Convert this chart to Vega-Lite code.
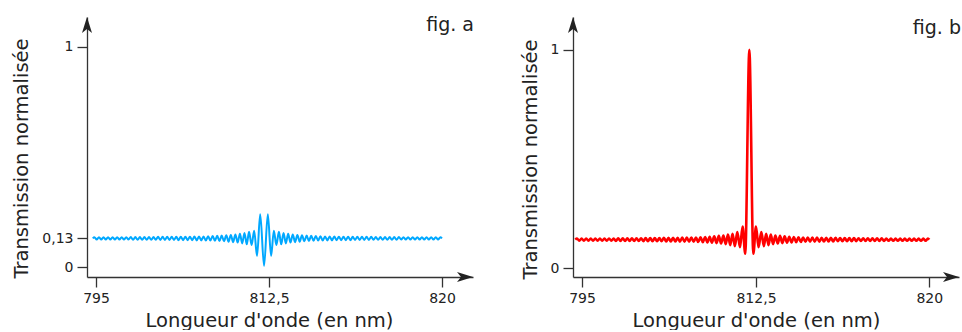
{
"$schema": "https://vega.github.io/schema/vega-lite/v6.json",
"padding": {"left": 11, "top": 15, "right": 0, "bottom": 0},
"background": "white",
"bounds": "flush",
"spacing": 100,
"config": {
  "view": {"stroke": null},
  "font": "DejaVu Sans",
  "axis": {"domainColor": "#333", "tickColor": "#333", "domainWidth": 1.3, "tickWidth": 1.3, "tickSize": 10, "labelFontSize": 14, "labelColor": "#222", "labelFont": "DejaVu Sans", "titleFont": "DejaVu Sans", "titleFontSize": 19.5, "titleFontWeight": "normal", "titleColor": "#222", "grid": false, "labelPadding": 4, "labelOverlap": false, "labelFlush": false, "labelExpr": "replace(format(datum.value, '~g'), '.', ',')"}
},
"datasets": {
"a": [
{"nm":794.67,"T":0.13},{"nm":794.84,"T":0.135},{"nm":795.07,"T":0.125},{"nm":795.30,"T":0.135},{"nm":795.53,"T":0.125},{"nm":795.76,"T":0.135},{"nm":795.99,"T":0.125},{"nm":796.22,"T":0.135},{"nm":796.45,"T":0.125},{"nm":796.68,"T":0.135},{"nm":796.91,"T":0.125},{"nm":797.14,"T":0.135},{"nm":797.37,"T":0.125},{"nm":797.60,"T":0.135},{"nm":797.83,"T":0.125},{"nm":798.06,"T":0.135},{"nm":798.29,"T":0.125},{"nm":798.52,"T":0.136},{"nm":798.75,"T":0.124},{"nm":798.98,"T":0.136},{"nm":799.21,"T":0.124},{"nm":799.44,"T":0.136},{"nm":799.67,"T":0.124},{"nm":799.90,"T":0.136},{"nm":800.13,"T":0.124},{"nm":800.36,"T":0.136},{"nm":800.59,"T":0.124},{"nm":800.82,"T":0.136},{"nm":801.05,"T":0.124},{"nm":801.28,"T":0.137},{"nm":801.51,"T":0.123},{"nm":801.74,"T":0.137},{"nm":801.97,"T":0.123},{"nm":802.20,"T":0.137},{"nm":802.43,"T":0.123},{"nm":802.66,"T":0.137},{"nm":802.89,"T":0.123},{"nm":803.12,"T":0.137},{"nm":803.35,"T":0.122},{"nm":803.58,"T":0.138},{"nm":803.81,"T":0.122},{"nm":804.04,"T":0.138},{"nm":804.27,"T":0.122},{"nm":804.50,"T":0.138},{"nm":804.73,"T":0.122},{"nm":804.96,"T":0.139},{"nm":805.19,"T":0.121},{"nm":805.42,"T":0.139},{"nm":805.65,"T":0.121},{"nm":805.88,"T":0.139},{"nm":806.11,"T":0.120},{"nm":806.34,"T":0.140},{"nm":806.57,"T":0.120},{"nm":806.80,"T":0.141},{"nm":807.03,"T":0.119},{"nm":807.26,"T":0.142},{"nm":807.49,"T":0.118},{"nm":807.72,"T":0.143},{"nm":807.95,"T":0.117},{"nm":808.18,"T":0.144},{"nm":808.41,"T":0.115},{"nm":808.64,"T":0.146},{"nm":808.87,"T":0.113},{"nm":809.10,"T":0.148},{"nm":809.33,"T":0.111},{"nm":809.56,"T":0.151},{"nm":809.79,"T":0.107},{"nm":810.02,"T":0.155},{"nm":810.25,"T":0.103},{"nm":810.48,"T":0.160},{"nm":810.74,"T":0.100},{"nm":811.00,"T":0.165},{"nm":811.29,"T":0.050},{"nm":811.61,"T":0.240},{"nm":812.00,"T":0.005},{"nm":812.38,"T":0.240},{"nm":812.59,"T":0.050},{"nm":812.71,"T":0.165},{"nm":812.82,"T":0.100},{"nm":812.93,"T":0.160},{"nm":813.03,"T":0.103},{"nm":813.13,"T":0.155},{"nm":813.23,"T":0.107},{"nm":813.33,"T":0.151},{"nm":813.43,"T":0.111},{"nm":813.53,"T":0.148},{"nm":813.63,"T":0.113},{"nm":813.73,"T":0.146},{"nm":813.83,"T":0.115},{"nm":813.93,"T":0.144},{"nm":814.03,"T":0.117},{"nm":814.13,"T":0.143},{"nm":814.23,"T":0.118},{"nm":814.33,"T":0.142},{"nm":814.43,"T":0.119},{"nm":814.53,"T":0.141},{"nm":814.63,"T":0.120},{"nm":814.73,"T":0.140},{"nm":814.83,"T":0.120},{"nm":814.93,"T":0.139},{"nm":815.03,"T":0.121},{"nm":815.13,"T":0.139},{"nm":815.23,"T":0.121},{"nm":815.33,"T":0.139},{"nm":815.43,"T":0.122},{"nm":815.53,"T":0.138},{"nm":815.63,"T":0.122},{"nm":815.73,"T":0.138},{"nm":815.83,"T":0.122},{"nm":815.93,"T":0.138},{"nm":816.03,"T":0.122},{"nm":816.13,"T":0.137},{"nm":816.23,"T":0.123},{"nm":816.33,"T":0.137},{"nm":816.43,"T":0.123},{"nm":816.53,"T":0.137},{"nm":816.63,"T":0.123},{"nm":816.73,"T":0.137},{"nm":816.83,"T":0.123},{"nm":816.93,"T":0.137},{"nm":817.03,"T":0.124},{"nm":817.13,"T":0.136},{"nm":817.23,"T":0.124},{"nm":817.33,"T":0.136},{"nm":817.43,"T":0.124},{"nm":817.53,"T":0.136},{"nm":817.63,"T":0.124},{"nm":817.73,"T":0.136},{"nm":817.83,"T":0.124},{"nm":817.93,"T":0.136},{"nm":818.03,"T":0.124},{"nm":818.13,"T":0.136},{"nm":818.23,"T":0.125},{"nm":818.33,"T":0.135},{"nm":818.43,"T":0.125},{"nm":818.53,"T":0.135},{"nm":818.63,"T":0.125},{"nm":818.73,"T":0.135},{"nm":818.83,"T":0.125},{"nm":818.93,"T":0.135},{"nm":819.03,"T":0.125},{"nm":819.13,"T":0.135},{"nm":819.23,"T":0.125},{"nm":819.33,"T":0.135},{"nm":819.43,"T":0.125},{"nm":819.53,"T":0.135},{"nm":819.63,"T":0.125},{"nm":819.73,"T":0.135},{"nm":819.83,"T":0.125},{"nm":819.93,"T":0.135},{"nm":820.00,"T":0.13}
],
"b": [
{"nm":794.33,"T":0.13},{"nm":794.50,"T":0.135},{"nm":794.73,"T":0.125},{"nm":794.96,"T":0.135},{"nm":795.19,"T":0.125},{"nm":795.42,"T":0.135},{"nm":795.65,"T":0.125},{"nm":795.88,"T":0.135},{"nm":796.11,"T":0.125},{"nm":796.34,"T":0.135},{"nm":796.57,"T":0.125},{"nm":796.80,"T":0.135},{"nm":797.03,"T":0.125},{"nm":797.26,"T":0.135},{"nm":797.49,"T":0.125},{"nm":797.72,"T":0.135},{"nm":797.95,"T":0.125},{"nm":798.18,"T":0.135},{"nm":798.41,"T":0.124},{"nm":798.64,"T":0.136},{"nm":798.87,"T":0.124},{"nm":799.10,"T":0.136},{"nm":799.33,"T":0.124},{"nm":799.56,"T":0.136},{"nm":799.79,"T":0.124},{"nm":800.02,"T":0.136},{"nm":800.25,"T":0.124},{"nm":800.48,"T":0.136},{"nm":800.71,"T":0.124},{"nm":800.94,"T":0.136},{"nm":801.17,"T":0.123},{"nm":801.40,"T":0.137},{"nm":801.63,"T":0.123},{"nm":801.86,"T":0.137},{"nm":802.09,"T":0.123},{"nm":802.32,"T":0.137},{"nm":802.55,"T":0.123},{"nm":802.78,"T":0.137},{"nm":803.01,"T":0.123},{"nm":803.24,"T":0.138},{"nm":803.47,"T":0.122},{"nm":803.70,"T":0.138},{"nm":803.93,"T":0.122},{"nm":804.16,"T":0.138},{"nm":804.39,"T":0.122},{"nm":804.62,"T":0.138},{"nm":804.85,"T":0.121},{"nm":805.08,"T":0.139},{"nm":805.31,"T":0.121},{"nm":805.54,"T":0.139},{"nm":805.77,"T":0.121},{"nm":806.00,"T":0.140},{"nm":806.23,"T":0.120},{"nm":806.46,"T":0.140},{"nm":806.69,"T":0.119},{"nm":806.92,"T":0.141},{"nm":807.15,"T":0.118},{"nm":807.38,"T":0.142},{"nm":807.61,"T":0.117},{"nm":807.84,"T":0.143},{"nm":808.07,"T":0.116},{"nm":808.30,"T":0.145},{"nm":808.53,"T":0.114},{"nm":808.76,"T":0.147},{"nm":808.99,"T":0.112},{"nm":809.22,"T":0.149},{"nm":809.45,"T":0.109},{"nm":809.68,"T":0.153},{"nm":809.91,"T":0.105},{"nm":810.14,"T":0.157},{"nm":810.37,"T":0.100},{"nm":810.62,"T":0.165},{"nm":810.89,"T":0.095},{"nm":811.15,"T":0.190},{"nm":811.42,"T":0.065},{"nm":811.83,"T":1.0},{"nm":812.23,"T":0.065},{"nm":812.50,"T":0.190},{"nm":812.61,"T":0.095},{"nm":812.73,"T":0.165},{"nm":812.84,"T":0.100},{"nm":812.94,"T":0.157},{"nm":813.04,"T":0.105},{"nm":813.14,"T":0.153},{"nm":813.24,"T":0.109},{"nm":813.34,"T":0.149},{"nm":813.44,"T":0.112},{"nm":813.54,"T":0.147},{"nm":813.64,"T":0.114},{"nm":813.74,"T":0.145},{"nm":813.84,"T":0.116},{"nm":813.94,"T":0.143},{"nm":814.04,"T":0.117},{"nm":814.14,"T":0.142},{"nm":814.24,"T":0.118},{"nm":814.34,"T":0.141},{"nm":814.44,"T":0.119},{"nm":814.54,"T":0.140},{"nm":814.64,"T":0.120},{"nm":814.74,"T":0.140},{"nm":814.84,"T":0.121},{"nm":814.94,"T":0.139},{"nm":815.04,"T":0.121},{"nm":815.14,"T":0.139},{"nm":815.24,"T":0.121},{"nm":815.34,"T":0.138},{"nm":815.44,"T":0.122},{"nm":815.54,"T":0.138},{"nm":815.64,"T":0.122},{"nm":815.74,"T":0.138},{"nm":815.84,"T":0.122},{"nm":815.94,"T":0.138},{"nm":816.04,"T":0.123},{"nm":816.14,"T":0.137},{"nm":816.24,"T":0.123},{"nm":816.34,"T":0.137},{"nm":816.44,"T":0.123},{"nm":816.54,"T":0.137},{"nm":816.64,"T":0.123},{"nm":816.74,"T":0.137},{"nm":816.84,"T":0.123},{"nm":816.94,"T":0.136},{"nm":817.04,"T":0.124},{"nm":817.14,"T":0.136},{"nm":817.24,"T":0.124},{"nm":817.34,"T":0.136},{"nm":817.44,"T":0.124},{"nm":817.54,"T":0.136},{"nm":817.64,"T":0.124},{"nm":817.74,"T":0.136},{"nm":817.84,"T":0.124},{"nm":817.94,"T":0.136},{"nm":818.04,"T":0.124},{"nm":818.14,"T":0.135},{"nm":818.24,"T":0.125},{"nm":818.34,"T":0.135},{"nm":818.44,"T":0.125},{"nm":818.54,"T":0.135},{"nm":818.64,"T":0.125},{"nm":818.74,"T":0.135},{"nm":818.84,"T":0.125},{"nm":818.94,"T":0.135},{"nm":819.04,"T":0.125},{"nm":819.14,"T":0.135},{"nm":819.24,"T":0.125},{"nm":819.34,"T":0.135},{"nm":819.44,"T":0.125},{"nm":819.54,"T":0.135},{"nm":819.64,"T":0.125},{"nm":819.74,"T":0.135},{"nm":819.84,"T":0.125},{"nm":819.94,"T":0.135},{"nm":820.00,"T":0.13}
]
},
"hconcat": [
{
  "width": 386, "height": 260,
  "layer": [
    {
      "data": {"name": "a"},
      "mark": {"type": "line", "color": "#00A8FF", "strokeWidth": 2, "interpolate": "monotone"},
      "encoding": {
        "x": {"field": "nm", "type": "quantitative",
              "scale": {"domain": [794.09, 795, 812.5, 820, 821.34], "range": [0, 9, 182, 355, 386], "nice": false, "zero": false},
              "axis": {"values": [795, 812.5, 820], "title": "Longueur d'onde (en nm)", "titlePadding": 6, "titleX": 182}},
        "y": {"field": "T", "type": "quantitative",
              "scale": {"domain": [-0.04545, 1.13636], "nice": false, "zero": false},
              "axis": {"values": [0, 0.13, 1], "title": "Transmission normalisée", "titlePadding": 10, "titleY": 141}}
      }
    },
    {
      "data": {"values": [{}]},
      "mark": {"type": "point", "shape": "M0,0L-1.25,4L0,3L1.25,4Z", "size": 64, "filled": true, "color": "#222", "opacity": 1, "strokeWidth": 0},
      "encoding": {"x": {"datum": 794.09, "type": "quantitative"}, "y": {"datum": 1.13636, "type": "quantitative"}}
    },
    {
      "data": {"values": [{}]},
      "mark": {"type": "point", "shape": "M0,0L-4,-1.25L-3,0L-4,1.25Z", "size": 64, "filled": true, "color": "#222", "opacity": 1, "strokeWidth": 0},
      "encoding": {"x": {"datum": 821.34, "type": "quantitative"}, "y": {"datum": -0.04545, "type": "quantitative"}}
    },
    {
      "data": {"values": [{}]},
      "mark": {"type": "text", "text": "fig. a", "align": "right", "baseline": "alphabetic", "fontSize": 19, "font": "DejaVu Sans", "color": "#222", "dx": 1},
      "encoding": {"x": {"datum": 821.34, "type": "quantitative"}, "y": {"datum": 1.073, "type": "quantitative"}}
    }
  ]
},
{
  "width": 386, "height": 260,
  "layer": [
    {
      "data": {"name": "b"},
      "mark": {"type": "line", "color": "#FF0000", "strokeWidth": 2.6, "interpolate": "monotone"},
      "encoding": {
        "x": {"field": "nm", "type": "quantitative",
              "scale": {"domain": [794.1, 795, 812.5, 820, 821.28], "range": [0, 9, 183, 356.3, 386], "nice": false, "zero": false},
              "axis": {"values": [795, 812.5, 820], "title": "Longueur d'onde (en nm)", "titlePadding": 6, "titleX": 183}},
        "y": {"field": "T", "type": "quantitative",
              "scale": {"domain": [-0.0412, 1.1498], "nice": false, "zero": false},
              "axis": {"values": [0, 1], "title": "Transmission normalisée", "titlePadding": 10, "titleY": 142}}
      }
    },
    {
      "data": {"values": [{}]},
      "mark": {"type": "point", "shape": "M0,0L-1.25,4L0,3L1.25,4Z", "size": 64, "filled": true, "color": "#222", "opacity": 1, "strokeWidth": 0},
      "encoding": {"x": {"datum": 794.1, "type": "quantitative"}, "y": {"datum": 1.1498, "type": "quantitative"}}
    },
    {
      "data": {"values": [{}]},
      "mark": {"type": "point", "shape": "M0,0L-4,-1.25L-3,0L-4,1.25Z", "size": 64, "filled": true, "color": "#222", "opacity": 1, "strokeWidth": 0},
      "encoding": {"x": {"datum": 821.28, "type": "quantitative"}, "y": {"datum": -0.0412, "type": "quantitative"}}
    },
    {
      "data": {"values": [{}]},
      "mark": {"type": "text", "text": "fig. b", "align": "right", "baseline": "alphabetic", "fontSize": 19, "font": "DejaVu Sans", "color": "#222", "dx": 2},
      "encoding": {"x": {"datum": 821.28, "type": "quantitative"}, "y": {"datum": 1.073, "type": "quantitative"}}
    }
  ]
}
]
}
